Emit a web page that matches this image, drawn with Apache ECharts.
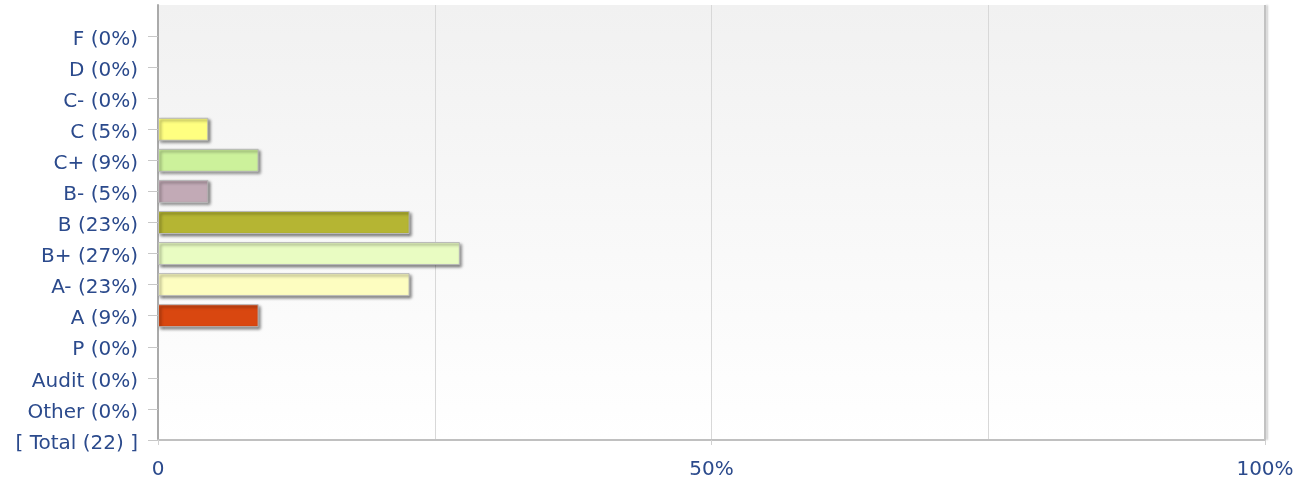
<!DOCTYPE html>
<html lang="en">
<head>
    <meta charset="UTF-8">
    <title>Grades</title>
    <script src="https://cdn.jsdelivr.net/npm/echarts@6/dist/echarts.min.js"></script>
    <style>
        html, body { margin: 0; padding: 0; background: #fff; }
    </style>
</head>
<body>
<div id="main" style="width: 1307px;height:482px;"></div>
<script type="text/javascript">
    // categories, bottom to top (last one is an empty slot at the top of the plot)
    var labels = ['[ Total (22) ]', 'Other (0%)', 'Audit (0%)', 'P (0%)', 'A (9%)', 'A- (23%)',
        'B+ (27%)', 'B (23%)', 'B- (5%)', 'C+ (9%)', 'C (5%)', 'C- (0%)', 'D (0%)', 'F (0%)', ''];
    // share of students, in percent
    var percents = [0, 0, 0, 0, 9.09, 22.73, 27.27, 22.73, 4.55, 9.09, 4.55, 0, 0, 0, 0];
    var colors = ['#fff', '#fff', '#fff', '#fff', '#d94710', '#fdfdc0', '#e9fcc2', '#b5b533',
        '#c2aab6', '#ccf19b', '#ffff80', '#fff', '#fff', '#fff', '#fff'];
    var xTicks = {0: '0', 50: '50%', 100: '100%'};

    var myChart = echarts.init(document.getElementById('main'));

    var textColor = '#2b4a8c';
    var font = '"DejaVu Sans", Verdana, sans-serif';

    myChart.setOption({
        animation: false,
        grid: {
            left: 158,
            right: 42,
            top: 5,
            bottom: 42,
            show: true,
            borderWidth: 0,
            backgroundColor: {
                type: 'linear', x: 0, y: 0, x2: 0, y2: 1,
                colorStops: [
                    {offset: 0, color: '#f1f1f1'},
                    {offset: 1, color: '#ffffff'}
                ]
            }
        },
        xAxis: {
            type: 'value',
            min: 0,
            max: 100,
            interval: 50,
            axisLine: {show: true, lineStyle: {color: '#c0c0c0', width: 2}},
            axisTick: {show: true, length: 5, lineStyle: {color: '#d0d0d0'}},
            axisLabel: {
                color: textColor,
                fontSize: 20,
                fontFamily: font,
                margin: 20,
                formatter: function (v) {
                    return xTicks[v] !== undefined ? xTicks[v] : '';
                }
            },
            splitLine: {show: true, lineStyle: {color: '#d8d8d8', width: 1}},
            minorTick: {show: false, splitNumber: 2},
            minorSplitLine: {show: true, lineStyle: {color: '#d8d8d8', width: 1}}
        },
        yAxis: {
            type: 'category',
            data: labels,
            boundaryGap: false,
            axisLine: {show: true, lineStyle: {color: '#aaaaaa', width: 2}},
            axisTick: {
                show: true,
                length: 10,
                interval: function (i, v) { return v !== ''; },
                lineStyle: {color: '#c8c8c8'}
            },
            axisLabel: {
                margin: 20,
                interval: 0,
                formatter: function (v) {
                    return v ? '{t|' + v + '}' : '';
                },
                rich: {
                    t: {
                        color: textColor,
                        fontSize: 20,
                        fontFamily: font,
                        padding: [7, 0, 0, 0]
                    }
                }
            },
            splitLine: {show: false}
        },
        series: [{
            type: 'bar',
            barWidth: 23,
            data: percents.map(function (v, i) {
                var d = {value: v, itemStyle: {color: colors[i]}};
                if (v === 0) {
                    d.itemStyle.opacity = 0;
                }
                return d;
            }),
            itemStyle: {
                borderColor: '#b8b8b8',
                borderWidth: 1,
                shadowColor: 'rgba(0,0,0,0.55)',
                shadowBlur: 3,
                shadowOffsetX: 2,
                shadowOffsetY: 2
            },
            markLine: {
                silent: true,
                symbol: 'none',
                label: {show: false},
                lineStyle: {
                    type: 'solid', color: '#c2c2c2', width: 2,
                    shadowColor: 'rgba(0,0,0,0.2)', shadowBlur: 2, shadowOffsetX: 2
                },
                data: [{xAxis: 100}]
            }
        }]
    });
</script>
</body>
</html>
